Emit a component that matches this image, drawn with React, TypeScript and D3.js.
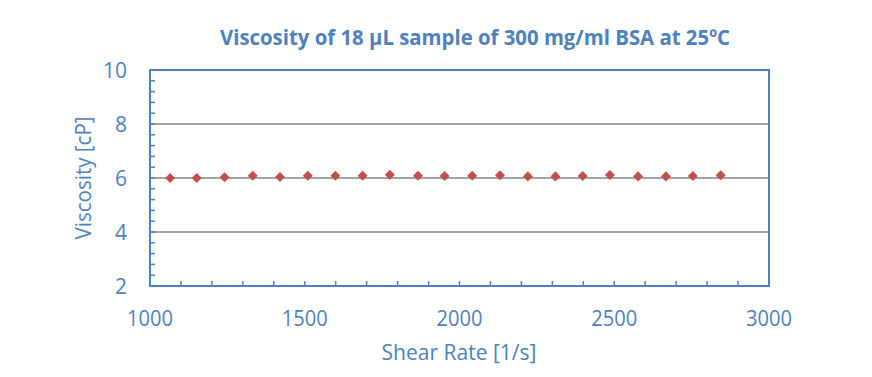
import React from "react";
import * as d3 from "d3";

const shearRates = [1065, 1151, 1241, 1332, 1420, 1510, 1599, 1687, 1775, 1866, 1952, 2041, 2131, 2221, 2310, 2398, 2486, 2577, 2667, 2754, 2844];
const viscosity = [6.0, 6.0, 6.03, 6.08, 6.04, 6.08, 6.08, 6.08, 6.12, 6.08, 6.07, 6.08, 6.1, 6.06, 6.06, 6.07, 6.11, 6.06, 6.06, 6.07, 6.1];
const xTicks = [1000, 1500, 2000, 2500, 3000];
const yTicks = [2, 4, 6, 8, 10];
const gridValues = [4, 6, 8];

const W = 872, H = 377;
const left = 150, right = 769, top = 70, bottom = 286;
const blue = "#4F81BD";
const font = "'Open Sans', 'Liberation Sans', sans-serif";

export default function App() {
  const x = d3.scaleLinear().domain([1000, 3000]).range([left, right]);
  const y = d3.scaleLinear().domain([2, 10]).range([bottom, top]);
  const xMinor = d3.range(1000, 3001, 100);
  const yMinor = d3.range(2, 10.001, 0.4);
  const diamond = d3.symbol().type(d3.symbolDiamond2).size(64)();
  return (
    <svg width={W} height={H} style={{ position: "absolute", left: 0, top: 0, background: "#fff" }}>
      <rect x={0} y={0} width={W} height={H} fill="#fff" />
      <text x={475} y={45} textAnchor="middle" fill={blue} fontFamily={font} fontWeight="bold" fontSize={21} textLength={510} lengthAdjust="spacingAndGlyphs">
        Viscosity of 18 µL sample of 300 mg/ml BSA at 25ºC
      </text>
      {gridValues.map((v) => (
        <line key={v} x1={left} x2={right} y1={y(v)} y2={y(v)} stroke="#868686" strokeWidth={1.5} />
      ))}
      {xMinor.map((v) => (
        <line key={"xm" + v} x1={x(v)} x2={x(v)} y1={bottom} y2={bottom - 5} stroke={blue} strokeWidth={1.5} />
      ))}
      {yMinor.map((v) => (
        <line key={"ym" + v} x1={left} x2={left + 5} y1={y(v)} y2={y(v)} stroke={blue} strokeWidth={1.5} />
      ))}
      <rect x={left} y={top} width={right - left} height={bottom - top} fill="none" stroke={blue} strokeWidth={2} />
      {shearRates.map((s, i) => (
        <path key={i} d={diamond} transform={`translate(${x(s)},${y(viscosity[i])})`} fill="#C0504D" />
      ))}
      {yTicks.map((v) => (
        <text key={"yt" + v} x={127} y={y(v)} dy="0.36em" textAnchor="end" fill={blue} fontFamily={font} fontSize={21}>
          {v}
        </text>
      ))}
      {xTicks.map((v) => (
        <text key={"xt" + v} x={x(v)} y={318} dy="0.36em" textAnchor="middle" fill={blue} fontFamily={font} fontSize={21} textLength={46} lengthAdjust="spacingAndGlyphs">
          {v}
        </text>
      ))}
      <text x={459} y={360} textAnchor="middle" fill={blue} fontFamily={font} fontSize={21} textLength={155} lengthAdjust="spacingAndGlyphs">
        Shear Rate [1/s]
      </text>
      <text transform={`translate(91,178) rotate(-90)`} textAnchor="middle" fill={blue} fontFamily={font} fontSize={21} textLength={123} lengthAdjust="spacingAndGlyphs">
        Viscosity [cP]
      </text>
    </svg>
  );
}
